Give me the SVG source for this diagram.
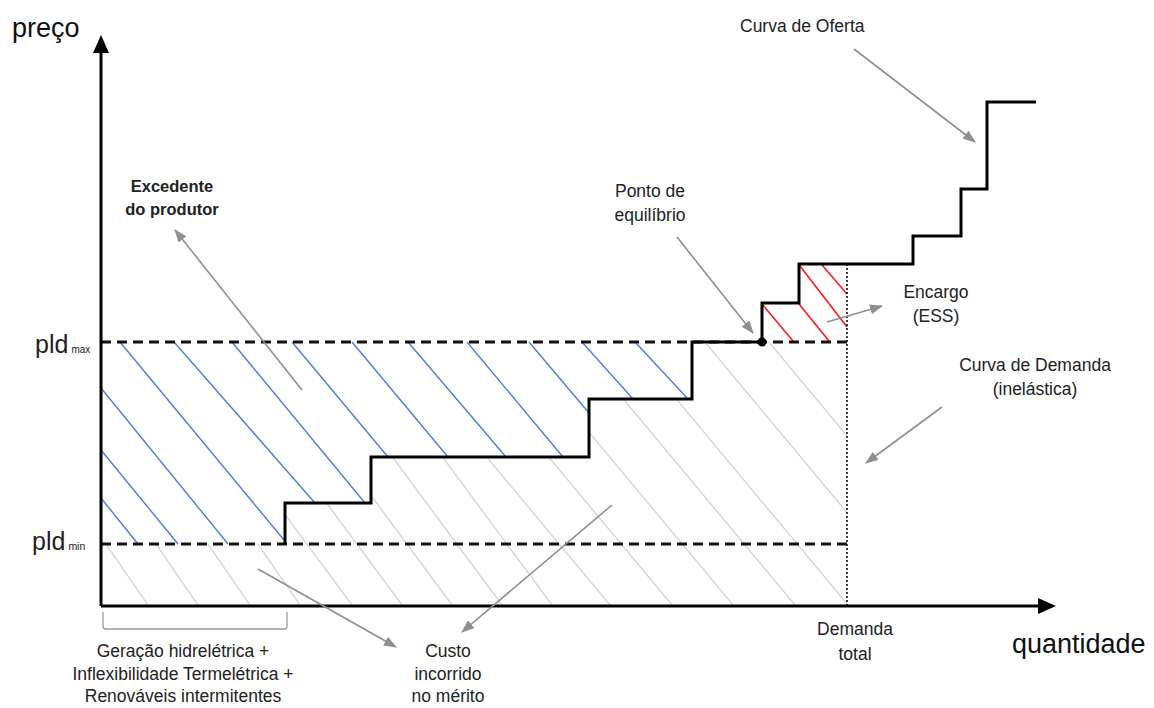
<svg xmlns="http://www.w3.org/2000/svg" width="1154" height="708" viewBox="0 0 1154 708">
<style>
text{font-family:"Liberation Sans",Arial,sans-serif;fill:#222}
.lbl{font-size:17.5px}
.mid{text-anchor:middle}
.axl{font-size:27px;fill:#111}
.b{font-weight:bold;font-size:16.5px}
.ax{stroke:#000;stroke-width:3;fill:none}
.step{stroke:#000;stroke-width:3;fill:none}
.dash{stroke:#111;stroke-width:3;stroke-dasharray:10 6;fill:none}
.dot{stroke:#000;stroke-width:1.5;stroke-dasharray:2 2}
.blue line{stroke:#4a7fd6;stroke-width:1.4}
.gray line{stroke:#d3d3d3;stroke-width:1.3}
.red line{stroke:#ff1a1a;stroke-width:1.6}
.arr{stroke:#8f8f8f;stroke-width:1.6;fill:none;marker-end:url(#ah)}
.brace{stroke:#9a9a9a;stroke-width:1.3;fill:none}
</style>
<defs>
<marker id="ah" markerUnits="userSpaceOnUse" markerWidth="13" markerHeight="10" refX="12" refY="5" orient="auto"><path d="M0,0 L13,5 L0,10 Z" fill="#8f8f8f"/></marker>
<clipPath id="gclip"><path d="M101,605 H847 V342 H692 V399 H589 V457 H371 V503 H285 V544 H101 Z"/></clipPath>
</defs>

<g id="hatch-gray" class="gray" clip-path="url(#gclip)">
<line x1="148" y1="605" x2="-59" y2="305"/>
<line x1="198" y1="605" x2="-9" y2="305"/>
<line x1="250" y1="605" x2="43" y2="305"/>
<line x1="300" y1="605" x2="93" y2="305"/>
<line x1="352" y1="605" x2="130" y2="305"/>
<line x1="402" y1="605" x2="180" y2="305"/>
<line x1="452" y1="605" x2="230" y2="305"/>
<line x1="502" y1="605" x2="280" y2="305"/>
<line x1="552" y1="605" x2="330" y2="305"/>
<line x1="610" y1="605" x2="360" y2="305"/>
<line x1="672" y1="605" x2="422" y2="305"/>
<line x1="733" y1="605" x2="483" y2="305"/>
<line x1="795" y1="605" x2="545" y2="305"/>
<line x1="848" y1="605" x2="598" y2="305"/>
<line x1="924" y1="605" x2="674" y2="305"/>
<line x1="988" y1="605" x2="738" y2="305"/>
</g>

<g id="hatch-blue" class="blue">
<line x1="101" y1="498" x2="138" y2="544"/>
<line x1="101" y1="450" x2="178" y2="544"/>
<line x1="101" y1="388" x2="228" y2="544"/>
<line x1="120" y1="342" x2="284" y2="540"/>
<line x1="174" y1="342" x2="315" y2="503"/>
<line x1="232" y1="342" x2="365" y2="503"/>
<line x1="292" y1="342" x2="388" y2="457"/>
<line x1="352" y1="342" x2="448" y2="457"/>
<line x1="408" y1="342" x2="506" y2="457"/>
<line x1="467" y1="342" x2="563" y2="457"/>
<line x1="529" y1="342" x2="589" y2="413"/>
<line x1="582" y1="342" x2="633" y2="399"/>
<line x1="635" y1="342" x2="688" y2="399"/>
</g>

<g id="hatch-red" class="red">
<line x1="762" y1="304" x2="793" y2="341"/>
<line x1="799" y1="304" x2="829" y2="341"/>
<line x1="800" y1="266" x2="847" y2="327"/>
<line x1="822" y1="265" x2="847" y2="294"/>
</g>

<g id="reference-lines">
<line class="dash" x1="101" y1="342" x2="847" y2="342"/>
<line class="dash" x1="101" y1="544" x2="847" y2="544"/>
<line class="dot" x1="847" y1="264" x2="847" y2="605"/>
</g>

<g id="supply-curve">
<path class="step" d="M285,544 V503 H371 V457 H589 V399 H692 V342 H762 V303 H799 V264 H913 V236 H961 V189 H987 V102 H1036"/>
</g>

<g id="equilibrium-point">
<circle cx="762" cy="342" r="4.5" fill="#000"/>
</g>

<g id="axes">
<path class="ax" d="M101,606 V50"/>
<path d="M101,35 L93,53 L109,53 Z" fill="#000"/>
<path class="ax" d="M101,606 H1040"/>
<path d="M1056,606 L1038,598 L1038,614 Z" fill="#000"/>
</g>

<g id="brace">
<path class="brace" d="M103,612 V626 Q103,629 106,629 H284 Q287,629 287,626 V612"/>
</g>

<g id="connectors">
<path class="arr" d="M854,49 L975,142"/>
<path class="arr" d="M302,390 L175,230"/>
<path class="arr" d="M677,237 L753,333"/>
<path class="arr" d="M827,322 L882,306"/>
<path class="arr" d="M942,407 L866,463"/>
<path class="arr" d="M258,569 L396,647"/>
<path class="arr" d="M612,505 L462,632"/>
</g>

<g id="label-preco"><text class="axl" x="12" y="37">preço</text></g>
<g id="label-quantidade"><text class="axl" x="1012" y="653">quantidade</text></g>
<g id="label-pldmax"><text x="35" y="353" font-size="25" fill="#111">pld<tspan font-size="10" dx="3">max</tspan></text></g>
<g id="label-pldmin"><text x="32" y="550" font-size="25" fill="#111">pld<tspan font-size="10.5" dx="3">min</tspan></text></g>
<g id="label-excedente"><text class="b mid" x="172" y="192">Excedente</text><text class="b mid" x="172" y="215">do produtor</text></g>
<g id="label-ponto"><text class="lbl mid" x="650" y="197">Ponto de</text><text class="lbl mid" x="650" y="221">equilíbrio</text></g>
<g id="label-oferta"><text class="lbl" x="740" y="32">Curva de Oferta</text></g>
<g id="label-encargo"><text class="lbl mid" x="936" y="298">Encargo</text><text class="lbl mid" x="936" y="322">(ESS)</text></g>
<g id="label-demanda-curva"><text class="lbl mid" x="1035" y="371">Curva de Demanda</text><text class="lbl mid" x="1035" y="395">(inelástica)</text></g>
<g id="label-demanda-total"><text class="lbl mid" x="855" y="635">Demanda</text><text class="lbl mid" x="855" y="660">total</text></g>
<g id="label-geracao"><text class="lbl mid" x="183" y="657">Geração hidrelétrica +</text><text class="lbl mid" x="183" y="680">Inflexibilidade Termelétrica +</text><text class="lbl mid" x="183" y="702">Renováveis intermitentes</text></g>
<g id="label-custo"><text class="lbl mid" x="448" y="657">Custo</text><text class="lbl mid" x="448" y="680">incorrido</text><text class="lbl mid" x="448" y="702">no mérito</text></g>
</svg>
